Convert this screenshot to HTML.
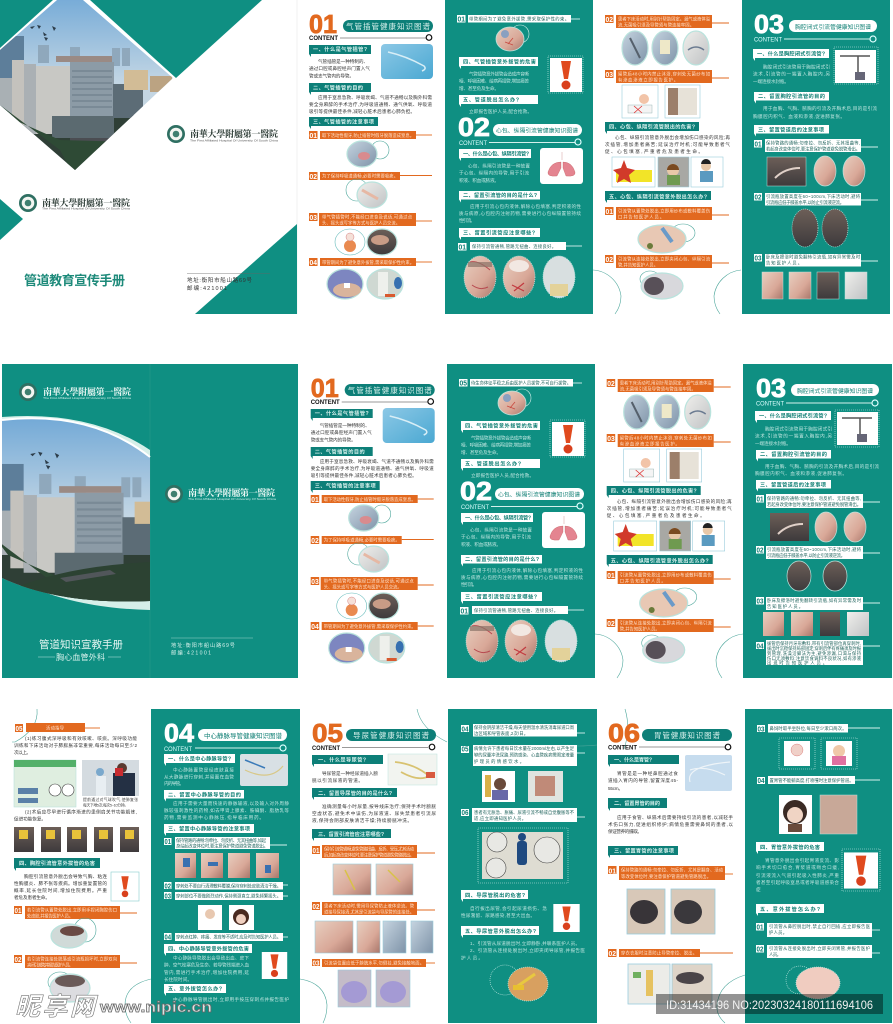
<!DOCTYPE html>
<html lang="zh"><head><meta charset="utf-8"><title>管道教育宣传手册</title>
<style>
html,body{margin:0;padding:0;background:#fff;width:893px;height:1024px;overflow:hidden}
svg{display:block;filter:blur(.35px)}
text{font-family:"Liberation Sans","Noto Sans CJK SC",sans-serif}
.T{fill:#0f8f82}.O{fill:#e2691f}.W{fill:#fff}.D{fill:#0d7f78}
.lo{stroke:#e2691f;stroke-width:.9}.lw{stroke:#d5f0ec;stroke-width:.9}
.c{stroke:#b9e3dd;stroke-width:1.2}.r{fill:none;stroke:#2f9c90;stroke-width:.6}.rw{fill:none;stroke:#cfeee9;stroke-width:.6}
.a{fill:none;stroke:#4ea79c;stroke-width:.6}
.s{fill:#2e2e2e}.g1{fill:url(#g1)}.g2{fill:url(#g2)}.g3{fill:url(#g3)}.g4{fill:url(#g4)}.g5{fill:url(#g5)}
.b{font-size:4.6px;fill:#333}.l{font-size:4.6px;fill:#bfe6e0}
.h{font-size:5.2px;fill:#d9f2ee;font-weight:700}.k{font-size:5.2px;fill:#0f7f74;font-weight:700}
.o{font-size:4.3px;fill:#ffe3cf}.w{font-size:4.3px;fill:#1a5f58}
.n{font-size:7px;font-weight:700;fill:#fff}.nt{font-size:7px;font-weight:700;fill:#0f7f74}
.N{font-size:26px;font-weight:700;stroke-width:.8}.NO{fill:#e2691f;stroke:#e2691f}.NW{fill:#fff;stroke:#fff}.P{font-size:7.5px}.C{font-size:6px}
.lg{font-family:"Noto Serif CJK SC","Liberation Serif",serif;font-size:9px;font-weight:700}
.sm{font-size:3px}
</style></head><body>
<svg width="893" height="1024" viewBox="0 0 893 1024" xmlns="http://www.w3.org/2000/svg">
<defs>
<linearGradient id="g1" x1="0" y1="0" x2="1" y2="1"><stop offset="0" stop-color="#e8cfc0"/><stop offset=".6" stop-color="#d9a898"/><stop offset="1" stop-color="#a8766a"/></linearGradient>
<linearGradient id="g2" x1="0" y1="0" x2="1" y2="1"><stop offset="0" stop-color="#c6d4e0"/><stop offset="1" stop-color="#7e93a8"/></linearGradient>
<linearGradient id="g3" x1="0" y1="0" x2="1" y2="1"><stop offset="0" stop-color="#f0efec"/><stop offset="1" stop-color="#bfc2c4"/></linearGradient>
<linearGradient id="g4" x1="0" y1="0" x2="0" y2="1"><stop offset="0" stop-color="#6d5f58"/><stop offset="1" stop-color="#3d3a3c"/></linearGradient>
<linearGradient id="g5" x1="0" y1="0" x2="1" y2="1"><stop offset="0" stop-color="#8cc8e6"/><stop offset="1" stop-color="#4aa8d2"/></linearGradient>
<linearGradient id="sky" x1="0" y1="0" x2="0" y2="1"><stop offset="0" stop-color="#6fa7d6"/><stop offset=".5" stop-color="#c3d6e4"/><stop offset="1" stop-color="#c9d6dd"/></linearGradient>
<clipPath id="dia"><path d="M0 50 57 0H83L173 78 75 170 0 105z"/></clipPath>
<clipPath id="cur"><path d="M2 420Q90 410 150 457V601Q60 605 2 578z"/></clipPath>
<symbol id="w" viewBox="0 0 32 34"><rect width="32" height="34" fill="#fff"/><path d="M11 3H21L18 21H14z" fill="#e04a1e"/><circle cx="16" cy="27" r="4.5" fill="#d9401c"/></symbol>
<g id="city">
<rect x="-5" y="-10" width="185" height="185" fill="url(#sky)"/>
<g fill="#8fa8bc"><rect x="38" y="45" width="11" height="18"/><rect x="70" y="47" width="10" height="15"/><rect x="112" y="48" width="8" height="18"/><rect x="122" y="48" width="8" height="18"/></g>
<rect x="0" y="36" width="24" height="76" fill="#5d7e9a"/>
<rect x="-5" y="115" width="185" height="60" fill="#2f3f36"/>
<rect x="0" y="78" width="12" height="40" fill="#a9b0b4"/>
<rect x="12" y="60" width="12" height="70" fill="#c4c2bd"/><rect x="24" y="64" width="12" height="70" fill="#aab0b4"/>
<rect x="36" y="66" width="34" height="68" fill="#c8c8c4"/><rect x="70" y="62" width="44" height="60" fill="#8c9ba6"/>
<g fill="#7a8a96"><rect x="72" y="70" width="40" height="2"/><rect x="72" y="76" width="40" height="2"/><rect x="72" y="82" width="40" height="2"/><rect x="72" y="88" width="40" height="2"/><rect x="72" y="94" width="40" height="2"/><rect x="72" y="100" width="40" height="2"/><rect x="72" y="106" width="40" height="2"/></g>
<rect x="52" y="116" width="62" height="22" fill="#5b6a70"/><rect x="70" y="138" width="60" height="10" fill="#4b4d52"/>
<rect x="113" y="84" width="30" height="34" fill="#5c6c76"/><rect x="124" y="70" width="24" height="20" fill="#d2bc96"/><rect x="150" y="76" width="22" height="16" fill="#bba382"/>
<rect x="56" y="56" width="56" height="6" fill="#9a8a84"/>
<path d="M0 105 60 150 75 178H180V150L130 142 60 140 10 118z" fill="#2e4a35"/>
<g fill="#2d3d4a"><path d="M30 27l5-1-3 3zM37 25l4 1-2 3zM52 26l4 2-2 3zM43 32l4 3-3 1zM44 37l4 1-2 3z"/></g>
</g>
<g id="logoc"><circle r="9" fill="#2f6f62"/><circle r="6.3" fill="#f4f6f2"/><circle r="3.3" fill="#3f7f70"/></g>

<g id="bs">
<path class="D" d="M343 26a6 6 0 0 1 6-6h78a6 6 0 0 1 6 6a6 6 0 0 1-6 6h-78a6 6 0 0 1-6-6z"/>
<line x1="340" y1="38" x2="426" y2="38" stroke="#999" stroke-width="1"/><circle cx="429" cy="37.5" r="2.8" fill="#fff" stroke="#111" stroke-width="1.2"/>
<path class="D" d="M309 45h62v9h-60v3l-2-3z"/><rect x="381" y="44" width="52" height="35" rx="4" class="g5"/>
<path d="M388 52q18 4 36 14q3 3-2 5" fill="none" stroke="#d8eef6" stroke-width="1.5"/>
<path class="D" d="M309 83h62v9h-60v3l-2-3z"/><path class="D" d="M309 117h69v9h-67v3l-2-3z"/>
<rect class="O" x="309" y="131" width="8.5" height="8"/><rect class="O" x="320" y="131" width="96" height="8"/><line class="lo" x1="416" y1="135" x2="432" y2="135"/>
<circle class="a" cx="380" cy="150" r="9"/><ellipse class="g2 c" cx="362" cy="154" rx="15" ry="13"/><ellipse cx="364" cy="156" rx="6" ry="4" fill="#d98b8e"/>
<rect class="O" x="309" y="172" width="8.5" height="8"/><rect class="O" x="320" y="172" width="80" height="8"/><line class="lo" x1="400" y1="175.500" x2="432" y2="175.500"/>
<circle class="a" cx="357" cy="190" r="11"/><ellipse class="g3 c" cx="372" cy="195" rx="15" ry="13"/><path d="M362 190l16 9" stroke="#e6b8a4" stroke-width="3"/>
<rect class="O" x="309" y="213" width="8.5" height="8"/><rect class="O" x="319" y="213" width="97" height="13"/><line class="lo" x1="416" y1="221" x2="432" y2="221"/>
<ellipse fill="#fff" stroke="#6bb" stroke-width=".6" cx="350" cy="242" rx="15" ry="13"/><ellipse cx="350" cy="246" rx="6" ry="6" fill="#e98a50"/><circle cx="350" cy="237" r="4" fill="#f5e0d8" stroke="#c66" stroke-width=".4"/>
<ellipse class="g4 c" cx="382" cy="242" rx="15" ry="13"/><ellipse cx="380" cy="240" rx="9" ry="5" fill="#c89c86"/>
<rect class="O" x="309" y="258" width="8.5" height="8"/><rect class="O" x="320" y="258" width="96" height="8"/><line class="lo" x1="416" y1="262" x2="432" y2="262"/>
<ellipse class="c" fill="#7d86c0" cx="345" cy="284" rx="18" ry="15"/><ellipse cx="347" cy="290" rx="14" ry="7" fill="#d9b49c"/><rect x="344" y="283" width="6" height="5" fill="#fff"/>
<ellipse class="c" fill="#cfd8d2" cx="385" cy="284" rx="18" ry="15"/><rect x="378" y="272" width="10" height="24" fill="#eef0ec"/><ellipse cx="398" cy="283" rx="4" ry="6" fill="#3670b0"/><rect x="385" y="294" width="10" height="3" fill="#d85a30"/>
</g>

<g id="cs">
<rect class="W" x="457" y="15" width="8.500" height="7.500"/><rect class="W" x="468" y="15" width="103" height="7.500"/><line class="lw" x1="571" y1="19" x2="580" y2="19"/>
<circle class="rw" cx="520" cy="34" r="9"/><ellipse class="g1" stroke="#b9e3dd" stroke-width=".8" cx="510" cy="39" rx="14" ry="12"/><circle cx="505" cy="34" r="4" fill="#8aa0c0"/><path d="M505 42l8 3M513 38l-5 6" stroke="#c84a40" stroke-width=".8"/>
<path class="W" d="M459 57h79v9h-77v3l-2-3z"/><rect class="rw" x="548" y="56" width="35" height="37" stroke-dasharray="1 1"/><use href="#w" x="550" y="58" width="32" height="34"/>
<path class="W" d="M459 95h79v9h-77v3l-2-3z"/>
<text class="N NW" x="458" y="136" textLength="32" lengthAdjust="spacingAndGlyphs">02</text>
<rect class="W" x="493" y="124" width="89" height="12" rx="6"/><line class="lw" x1="489" y1="142.500" x2="575" y2="142.500"/><circle cx="578" cy="142" r="3" fill="none" stroke="#dff" stroke-width="1.2"/>
<path class="W" d="M459 149h72v9h-70v3l-2-3z"/>
<rect class="W" x="540" y="148" width="43" height="36" rx="3"/><path d="M562 152v8M561 162q-10 0-13 10q-1 5 9 4l4-8zM563 162q9 0 12 10q1 5-9 4l-3-8z" fill="#e48490" stroke="#b55" stroke-width=".3"/>
<path class="W" d="M459 191h81v8.500h-79v3l-2-3z"/><path class="W" d="M459 228h81v9h-79v3l-2-3z"/>
<rect class="W" x="458" y="243" width="8.500" height="7.500"/><rect class="W" x="470" y="242" width="96" height="8"/><line class="lw" x1="566" y1="246" x2="582" y2="246"/>
<ellipse class="g1" stroke="#b9e3dd" stroke-width=".8" stroke-dasharray="1 1" cx="480" cy="277" rx="16" ry="21"/><path d="M470 262q8-2 20 8M472 285q8 6 16 2" stroke="#b84a50" stroke-width="1" fill="none"/><rect x="468" y="262" width="24" height="5" fill="#8a7468" opacity=".7"/>
<ellipse class="g1" stroke="#b9e3dd" stroke-width=".8" stroke-dasharray="1 1" cx="519" cy="277" rx="16" ry="21"/><path d="M512 285l12 6M524 283l-10 8" stroke="#c23a40" stroke-width="1.200"/><ellipse cx="519" cy="266" rx="10" ry="6" fill="#f2e8e2"/>
<ellipse fill="#d8dfe0" stroke="#b9e3dd" stroke-width=".8" stroke-dasharray="1 1" cx="559" cy="277" rx="16" ry="21"/><rect x="550" y="284" width="18" height="12" fill="#e3d29a"/>
</g>

<g id="ds">
<rect class="O" x="605" y="15" width="8.500" height="8"/><rect class="O" x="616" y="15" width="96" height="13"/><line class="lo" x1="712" y1="23" x2="729" y2="23"/>
<ellipse class="g2 c" cx="635" cy="48" rx="13" ry="17"/><path d="M630 38l10 20" stroke="#55606c" stroke-width="2"/><ellipse class="g2 c" cx="665" cy="48" rx="13" ry="17"/><rect x="660" y="40" width="10" height="14" fill="#eee8c8"/><ellipse class="g3 c" cx="696" cy="48" rx="13" ry="17"/><path d="M688 50q8-6 16 0" stroke="#6a7a90" stroke-width="1.500" fill="none"/>
<rect class="O" x="605" y="70" width="8.500" height="8"/><rect class="O" x="616" y="70" width="96" height="13"/><line class="lo" x1="712" y1="78" x2="729" y2="78"/>
<rect x="622" y="85" width="36" height="33" fill="#fff" stroke="#9cd" stroke-width=".6"/><rect x="628" y="105" width="24" height="8" fill="#f4f4f4" stroke="#8aa" stroke-width=".4"/><circle cx="644" cy="99" r="5" fill="#f2c4a8"/><path d="M634 106l8 7M642 106l-8 7" stroke="#d33" stroke-width=".8"/>
<rect x="665" y="85" width="35" height="33" fill="#fff" stroke="#9cd" stroke-width=".6"/><rect x="668" y="88" width="29" height="27" fill="#e7e2d8"/><rect x="668" y="88" width="10" height="27" fill="#9c7f6a"/>
<path class="D" d="M605 122h94v9h-92v3l-2-3z"/>
<rect x="612" y="157" width="43" height="30" fill="#fff" stroke="#9cd" stroke-width=".6"/><rect x="616" y="170" width="36" height="12" fill="#f2e428"/><path d="M624 160l3 8 8 2-6 5 2 8-7-4-7 4 2-8-6-5 8-2z" fill="#d13a2a"/>
<rect x="658" y="157" width="31" height="30" fill="#a8a8a4" stroke="#9cd" stroke-width=".6"/><circle cx="673" cy="170" r="6" fill="#e8c8a8"/><rect x="667" y="175" width="13" height="10" fill="#6f9a50"/><path d="M667 170a6 6 0 0 1 12 0z" fill="#7a4a20"/>
<rect x="691" y="157" width="32" height="30" fill="#fff" stroke="#9cd" stroke-width=".6"/><circle cx="706" cy="166" r="5" fill="#e8c8a8"/><path d="M701 164a5 5 0 0 1 10 0z" fill="#222"/><rect x="700" y="171" width="13" height="11" fill="#5a9ac0"/>
<path class="D" d="M605 191h106v9h-104v3l-2-3z"/>
<rect class="O" x="605" y="207" width="8.500" height="8"/><rect class="O" x="616" y="207" width="96" height="13"/><line class="lo" x1="712" y1="215" x2="729" y2="215"/>
<ellipse class="a" cx="683" cy="233" rx="12" ry="9"/><ellipse class="c" fill="#e8c8b4" cx="662" cy="239" rx="24" ry="14"/><path d="M662 228l10 14" stroke="#6a9ac8" stroke-width="4"/><circle cx="650" cy="246" r="3" fill="#6a7a3a"/>
<rect class="O" x="605" y="255" width="8.500" height="8"/><rect class="O" x="616" y="255" width="96" height="13"/><line class="lo" x1="712" y1="263" x2="729" y2="263"/>
<ellipse class="a" cx="650" cy="279" rx="10" ry="8"/><ellipse class="c" fill="#d8d8dc" cx="662" cy="286" rx="21" ry="13"/><ellipse cx="654" cy="286" rx="10" ry="9" fill="#585058"/>
</g>
</defs>

<!-- row 1 -->
<rect class="T" x="445" y="0" width="148" height="314"/><rect class="T" x="742" y="0" width="148" height="314"/>
<line x1="297" y1="0" x2="297" y2="314" stroke="#e6e6e6" stroke-width=".6"/>
<path class="T" d="M0 0H53L0 48z"/><path class="T" d="M90 0H262L176 78z"/><path class="T" d="M0 199 23 219 0 240z"/><path class="T" d="M195 314 297 224V314z"/>
<g clip-path="url(#dia)"><use href="#city"/></g>
<use href="#logoc" x="176" y="134"/><use href="#logoc" x="28" y="203"/>
<text class="lg" x="190" y="137" fill="#2b3a34" textLength="88">南華大學附屬第一醫院</text>
<text class="sm" x="190" y="141.500" fill="#555" textLength="88" lengthAdjust="spacingAndGlyphs">The First Affiliated Hospital Of University Of South China</text>
<text class="lg" x="42" y="206" fill="#2b3a34" textLength="88">南華大學附屬第一醫院</text>
<text class="sm" x="42" y="209.500" fill="#555" textLength="88" lengthAdjust="spacingAndGlyphs">The First Affiliated Hospital Of University Of South China</text>
<text x="24" y="285" font-size="13" font-weight="700" fill="#1d8a7a" textLength="101">管道教育宣传手册</text>
<line x1="187" y1="273.500" x2="270" y2="273.500" stroke="#666" stroke-width=".4"/>
<text x="187" y="282" font-size="5.5" fill="#333" textLength="65">地址:衡阳市船山路69号</text>
<text x="187" y="290" font-size="5.5" fill="#333" textLength="40">邮编:421001</text>

<use href="#bs"/>
<g id="bt1">
<text class="N NO" x="309" y="33" textLength="28" lengthAdjust="spacingAndGlyphs">01</text>
<text class="P" x="346" y="29" fill="#d7f1ec" textLength="84">气管插管健康知识图谱</text>
<text class="C" x="309" y="40" font-weight="700" fill="#111" textLength="29" lengthAdjust="spacingAndGlyphs">CONTENT</text>
<text class="h" x="313" y="51" textLength="54">一、什么是气管插管?</text>
<text class="b" x="318" y="63" textLength="50">气管插管是一种特制的、</text>
<text class="b" x="309" y="70" textLength="61">通过口腔或鼻腔经声门置入气</text>
<text class="b" x="309" y="77.500" textLength="45">管或支气管内的导管。</text>
<text class="h" x="313" y="89.500" textLength="50">二、气管插管的目的</text>
<text class="b" x="318" y="99" textLength="114">应用于窒息急救、呼吸衰竭、气道不通畅以及胸外科需</text>
<text class="b" x="309" y="106" textLength="123">要全身麻醉的手术治疗,为呼吸道通畅、通气供氧、呼吸道</text>
<text class="b" x="309" y="113" textLength="106">吸引等提供最佳条件,减轻心脏术后患者心肺负担。</text>
<text class="h" x="313" y="123.500" textLength="61">三、气管插管的注意事项</text>
<text class="n" x="309.500" y="138" textLength="7.500" lengthAdjust="spacingAndGlyphs">01</text>
<text class="o" x="322" y="137" textLength="92">取下活动性假牙,防止插管时假牙脱落造成窒息。</text>
<text class="n" x="309.500" y="179" textLength="7.500" lengthAdjust="spacingAndGlyphs">02</text>
<text class="o" x="322" y="177.500" textLength="76">为了保持呼吸道通畅,必要时需要吸痰。</text>
<text class="n" x="309.500" y="220" textLength="7.500" lengthAdjust="spacingAndGlyphs">03</text>
<text class="o" x="322" y="218.500" textLength="90">带气管插管时,不能经口进食及说话,可通过点</text>
<text class="o" x="322" y="224.500" textLength="78">头、摇头或写字等方式与医护人员交流。</text>
<text class="n" x="309.500" y="265" textLength="7.500" lengthAdjust="spacingAndGlyphs">04</text>
<text class="o" x="322" y="264" textLength="92">带管期间为了避免意外拔管,需采取保护性约束。</text>
</g>

<use href="#cs"/>
<g id="ct1">
<text class="nt" x="457.500" y="21.500" textLength="7.500" lengthAdjust="spacingAndGlyphs">01</text>
<text class="w" x="469" y="20.500" textLength="100">带管期间为了避免意外拔管,需采取保护性约束。</text>
<text class="k" x="463" y="63.500" textLength="73">四、气管插管意外拔管的危害</text>
<text class="l" x="469" y="75.500" textLength="60">气管插管意外拔管会造成声音嘶</text>
<text class="l" x="459" y="82.500" textLength="70">哑、呼吸困难、给病再插管,增加痛苦</text>
<text class="l" x="459" y="90" textLength="40">增、甚至危及生命。</text>
<text class="k" x="463" y="101.500" textLength="56">五、管道脱出怎么办?</text>
<text class="l" x="469" y="113" textLength="63">立即报告医护人员,配合抢救。</text>
<text x="496" y="132.500" font-size="5.800" fill="#0f7f74" textLength="82">心包、纵隔引流管健康知识图谱</text>
<text class="C" x="459" y="145" fill="#dff" textLength="28" lengthAdjust="spacingAndGlyphs">CONTENT</text>
<text class="k" x="463" y="155.500" textLength="66">一、什么是心包、纵隔引流管?</text>
<text class="l" x="468" y="167.500" textLength="62">心包、纵隔引流管是一种放置</text>
<text class="l" x="459" y="174.500" textLength="70">于心包、纵隔内的导管,用于引流</text>
<text class="l" x="459" y="182" textLength="40">积液、积血或脓液。</text>
<text class="k" x="463" y="197" textLength="74">二、留置引流管的目的是什么?</text>
<text class="l" x="470" y="208" textLength="111">应用于引流心包内液体,解除心包填塞,判定积液的性</text>
<text class="l" x="459" y="215" textLength="122">质与病原,心包腔内注射药物,需要进行心包纵隔置管持续</text>
<text class="l" x="459" y="222" textLength="16">性引流。</text>
<text class="k" x="463" y="234.500" textLength="72">三、留置引流管应注意哪些?</text>
<text class="nt" x="458.500" y="249.500" textLength="7.500" lengthAdjust="spacingAndGlyphs">01</text>
<text class="w" x="472" y="248" textLength="84">保持引流管通畅,管路无扭曲、连接良好。</text>
</g>

<use href="#ds"/>
<path class="a" d="M593 270a30 30 0 0 1 28 26q0 10-6 18M741 270a30 30 0 0 0-27 26q0 10 6 18"/>
<g id="dt1">
<text class="n" x="605.500" y="22" textLength="7.500" lengthAdjust="spacingAndGlyphs">02</text>
<text class="o" x="618" y="20.500" textLength="92">患者下床活动时,用别针帮助固定。漏气或液体溢</text>
<text class="o" x="618" y="26.500" textLength="76">流,无菌吸引须及导管须与管连接牢固。</text>
<text class="n" x="605.500" y="77" textLength="7.500" lengthAdjust="spacingAndGlyphs">03</text>
<text class="o" x="618" y="75.500" textLength="92">留管后48小时内禁止沐浴,穿刺处无菌纱布如</text>
<text class="o" x="618" y="81.500" textLength="60">有渗血渗液立即报告医护。</text>
<text class="h" x="609" y="128.500" textLength="86">四、心包、纵隔引流管脱出的危害?</text>
<text class="b" x="615" y="139" textLength="115">心包、纵隔引流管意外脱出会增加伤口感染的风险;再</text>
<text class="b" x="605" y="146" textLength="125">次插管,增加患者痛苦;延误治疗时机;可能导致患者气</text>
<text class="b" x="605" y="153" textLength="98">促、心包填塞,严重者危及患者生命。</text>
<text class="h" x="609" y="198.500" textLength="98">五、心包、纵隔引流管意外脱出怎么办?</text>
<text class="n" x="605.500" y="214" textLength="7.500" lengthAdjust="spacingAndGlyphs">01</text>
<text class="o" x="618" y="212.500" textLength="92">引流管从置管处脱出,立即用纱布或敷料覆盖伤</text>
<text class="o" x="618" y="218.500" textLength="46">口并告知医护人员。</text>
<text class="n" x="605.500" y="262" textLength="7.500" lengthAdjust="spacingAndGlyphs">02</text>
<text class="o" x="618" y="260.500" textLength="92">引流管从连接处脱出,立即夹闭心包、纵隔引流</text>
<text class="o" x="618" y="266.500" textLength="40">管,并告知医护人员。</text>
</g>

<!-- E row 1 -->
<rect class="W" x="789" y="20" width="88" height="12" rx="6"/><line class="lw" x1="784" y1="39" x2="870" y2="39"/><circle cx="873" cy="39" r="3" fill="none" stroke="#dff" stroke-width="1.2"/>
<path class="W" d="M753 49h76v9h-74v3l-2-3z"/><rect class="rw" x="834" y="47" width="44" height="37" stroke-dasharray="1 1"/><rect class="W" x="835" y="50" width="41" height="33"/><path d="M840 56h30M858 56v18" stroke="#555" stroke-width="1.5" fill="none"/><rect x="855" y="72" width="10" height="8" fill="#667"/>
<path class="W" d="M754 92h75v8.500h-73v3l-2-3z"/><path class="W" d="M754 125h75v8.500h-73v3l-2-3z"/>
<rect class="W" x="754" y="140" width="8" height="7.500"/><rect class="W" x="765" y="139" width="96" height="13"/><line class="lw" x1="861" y1="147" x2="878" y2="147"/>
<rect class="g4" x="767" y="157" width="39" height="29" stroke="#b9e3dd" stroke-width=".5"/><path d="M775 178q10-10 25-10" stroke="#e0d0c8" stroke-width="2" fill="none"/>
<ellipse class="g1" cx="825" cy="171" rx="11" ry="15" stroke="#b9e3dd" stroke-width=".7"/><ellipse class="g1" cx="854" cy="171" rx="11" ry="15" stroke="#b9e3dd" stroke-width=".7"/>
<rect class="W" x="754" y="193" width="8" height="7.500"/><rect class="W" x="765" y="193" width="96" height="12.500"/><line class="lw" x1="861" y1="200" x2="878" y2="200"/>
<ellipse class="g4" cx="805" cy="228" rx="13" ry="19" stroke="#b9e3dd" stroke-width=".7" stroke-dasharray="1 1"/><ellipse class="g4" cx="835" cy="228" rx="13" ry="19" stroke="#b9e3dd" stroke-width=".7" stroke-dasharray="1 1"/>
<rect class="W" x="754" y="254" width="8" height="7.500"/><rect class="W" x="765" y="254" width="96" height="12.500"/><line class="lw" x1="861" y1="261" x2="878" y2="261"/>
<rect class="g1" x="762" y="272" width="21" height="27" stroke="#b9e3dd" stroke-width=".5"/><rect class="g1" x="789" y="272" width="22" height="27" stroke="#b9e3dd" stroke-width=".5"/><rect class="g4" x="817" y="272" width="22" height="27" stroke="#b9e3dd" stroke-width=".5"/><rect class="g3" x="845" y="272" width="22" height="27" stroke="#b9e3dd" stroke-width=".5"/>
<text class="N NW" x="754" y="33" textLength="30" lengthAdjust="spacingAndGlyphs">03</text>
<text x="795" y="29" font-size="5.800" fill="#0f7f74" textLength="76">胸腔闭式引流管健康知识图谱</text>
<text class="C" x="754" y="41.500" fill="#dff" textLength="28" lengthAdjust="spacingAndGlyphs">CONTENT</text>
<text class="k" x="757" y="55.500" textLength="68">一、什么是胸腔闭式引流管?</text>
<text class="l" x="763" y="68.500" textLength="67">胸腔闭式引流管用于胸腔闭式引</text>
<text class="l" x="753" y="75.500" textLength="77">流术,引流管的一端置入胸腔内,另</text>
<text class="l" x="753" y="83" textLength="36">一端连接水封瓶。</text>
<text class="k" x="758" y="98" textLength="67">二、留置胸腔引流管的目的</text>
<text class="l" x="763" y="110" textLength="114">用于血胸、气胸、脓胸的引流及开胸术后,目的是引流</text>
<text class="l" x="753" y="118" textLength="92">胸膜腔内积气、血液和渗液,促进肺复张。</text>
<text class="k" x="758" y="131.500" textLength="66">三、留置管道后的注意事项</text>
<text class="nt" x="754.500" y="146.500" textLength="7" lengthAdjust="spacingAndGlyphs">01</text>
<text class="w" x="766" y="144.500" textLength="94">保持管路的通畅:勿牵拉、勿反折、无其扭曲等,</text>
<text class="w" x="766" y="150.500" textLength="94">若起身改变体位时,要注意保护管道避免脱管滑出。</text>
<text class="nt" x="754.500" y="199.500" textLength="7" lengthAdjust="spacingAndGlyphs">02</text>
<text class="w" x="766" y="198" textLength="94">引流瓶放置高度在60~100cm,下床活动时,避将</text>
<text class="w" x="766" y="204" textLength="78">引流瓶应低于膝盖水平,以防止引流液逆流。</text>
<text class="nt" x="754.500" y="260.500" textLength="7" lengthAdjust="spacingAndGlyphs">03</text>
<text class="w" x="766" y="258.500" textLength="94">卧床及擦浴时避免翻转引流瓶,如有异常需及时</text>
<text class="w" x="766" y="264.500" textLength="36">告知医护人员。</text>

<!-- row 2 cover -->
<rect class="T" x="2" y="364" width="296" height="314"/><line x1="150" y1="364" x2="150" y2="678" stroke="#2a9a8c" stroke-width=".5"/>
<rect class="T" x="447" y="364" width="148" height="314"/><rect class="T" x="743" y="364" width="149" height="314"/>
<path d="M2 417Q90 410 150 450V610Q60 608 2 572z" fill="#d6efe9"/>
<g clip-path="url(#cur)"><use href="#city" transform="translate(-3 424) scale(1.11)"/><path d="M20 586Q70 566 150 562V604H50z" fill="#2c4232"/><path d="M60 578l50-8 6 4-50 8z" fill="#51565a"/></g>
<path d="M2 420Q90 410 150 457" fill="none" stroke="#fff" stroke-width="2"/>
<use href="#logoc" x="28" y="392"/><use href="#logoc" x="174" y="494"/>
<text class="lg" x="43" y="395" fill="#eaf7f4" textLength="88">南華大學附屬第一醫院</text>
<text class="sm" x="43" y="399" fill="#cfeee9" textLength="88" lengthAdjust="spacingAndGlyphs">The First Affiliated Hospital Of University Of South China</text>
<text class="lg" x="188" y="496" fill="#eaf7f4" textLength="87">南華大學附屬第一醫院</text>
<text class="sm" x="188" y="500" fill="#cfeee9" textLength="88" lengthAdjust="spacingAndGlyphs">The First Affiliated Hospital Of University Of South China</text>
<text x="39" y="648" font-size="10.500" fill="#e8f7f4" textLength="84">管道知识宣教手册</text>
<text x="56" y="660" font-size="8" fill="#d7f1ec" textLength="49">胸心血管外科</text>
<path d="M38 657H55M108 657H121" stroke="#bfe6e0" stroke-width=".5"/>
<line x1="171" y1="638" x2="253" y2="638" stroke="#bfe6e0" stroke-width=".4"/>
<text x="171" y="647" font-size="5.200" fill="#d7f1ec" textLength="64">地址:衡阳市船山路69号</text>
<text x="171" y="654.500" font-size="5.200" fill="#d7f1ec" textLength="40">邮编:421001</text>

<use href="#bs" x="1.700" y="364"/><use href="#cs" x="2" y="364"/><use href="#ds" x="1.700" y="364"/>
<path class="a" d="M595 634a30 30 0 0 1 28 26q0 10-6 18M743 634a30 30 0 0 0-27 26q0 10 6 18"/>
<g transform="translate(1.700 364)">
<text class="N NO" x="309" y="33" textLength="28" lengthAdjust="spacingAndGlyphs">01</text>
<text class="P" x="346" y="29" fill="#d7f1ec" textLength="84">气管插管健康知识图谱</text>
<text class="C" x="309" y="40" font-weight="700" fill="#111" textLength="29" lengthAdjust="spacingAndGlyphs">CONTENT</text>
<text class="h" x="313" y="51" textLength="54">一、什么是气管插管?</text>
<text class="b" x="318" y="63" textLength="50">气管插管是一种特制的、</text>
<text class="b" x="309" y="70" textLength="61">通过口腔或鼻腔经声门置入气</text>
<text class="b" x="309" y="77.500" textLength="45">管或支气管内的导管。</text>
<text class="h" x="313" y="89.500" textLength="50">二、气管插管的目的</text>
<text class="b" x="318" y="99" textLength="114">应用于窒息急救、呼吸衰竭、气道不通畅以及胸外科需</text>
<text class="b" x="309" y="106" textLength="123">要全身麻醉的手术治疗,为呼吸道通畅、通气供氧、呼吸道</text>
<text class="b" x="309" y="113" textLength="106">吸引等提供最佳条件,减轻心脏术后患者心肺负担。</text>
<text class="h" x="313" y="123.500" textLength="61">三、气管插管的注意事项</text>
<text class="n" x="309.500" y="138" textLength="7.500" lengthAdjust="spacingAndGlyphs">01</text>
<text class="o" x="322" y="137" textLength="92">取下活动性假牙,防止插管时假牙脱落造成窒息。</text>
<text class="n" x="309.500" y="179" textLength="7.500" lengthAdjust="spacingAndGlyphs">02</text>
<text class="o" x="322" y="177.500" textLength="76">为了保持呼吸道通畅,必要时需要吸痰。</text>
<text class="n" x="309.500" y="220" textLength="7.500" lengthAdjust="spacingAndGlyphs">03</text>
<text class="o" x="322" y="218.500" textLength="90">带气管插管时,不能经口进食及说话,可通过点</text>
<text class="o" x="322" y="224.500" textLength="78">头、摇头或写字等方式与医护人员交流。</text>
<text class="n" x="309.500" y="265" textLength="7.500" lengthAdjust="spacingAndGlyphs">04</text>
<text class="o" x="322" y="264" textLength="92">带管期间为了避免意外拔管,需采取保护性约束。</text>
</g>
<g transform="translate(2 364)">
<text class="nt" x="457.500" y="21.500" textLength="7.500" lengthAdjust="spacingAndGlyphs">05</text>
<text class="w" x="469" y="20.500" textLength="100">待生命体征平稳之后由医护人员拔管,不可自行拔管。</text>
<text class="k" x="463" y="63.500" textLength="73">四、气管插管意外拔管的危害</text>
<text class="l" x="469" y="75.500" textLength="60">气管插管意外拔管会造成声音嘶</text>
<text class="l" x="459" y="82.500" textLength="70">哑、呼吸困难、给病再插管,增加痛苦</text>
<text class="l" x="459" y="90" textLength="40">增、甚至危及生命。</text>
<text class="k" x="463" y="101.500" textLength="56">五、管道脱出怎么办?</text>
<text class="l" x="469" y="113" textLength="63">立即报告医护人员,配合抢救。</text>
<text x="496" y="132.500" font-size="5.800" fill="#0f7f74" textLength="82">心包、纵隔引流管健康知识图谱</text>
<text class="C" x="459" y="145" fill="#dff" textLength="28" lengthAdjust="spacingAndGlyphs">CONTENT</text>
<text class="k" x="463" y="155.500" textLength="66">一、什么是心包、纵隔引流管?</text>
<text class="l" x="468" y="167.500" textLength="62">心包、纵隔引流管是一种放置</text>
<text class="l" x="459" y="174.500" textLength="70">于心包、纵隔内的导管,用于引流</text>
<text class="l" x="459" y="182" textLength="40">积液、积血或脓液。</text>
<text class="k" x="463" y="197" textLength="74">二、留置引流管的目的是什么?</text>
<text class="l" x="470" y="208" textLength="111">应用于引流心包内液体,解除心包填塞,判定积液的性</text>
<text class="l" x="459" y="215" textLength="122">质与病原,心包腔内注射药物,需要进行心包纵隔置管持续</text>
<text class="l" x="459" y="222" textLength="16">性引流。</text>
<text class="k" x="463" y="234.500" textLength="72">三、留置引流管应注意哪些?</text>
<text class="nt" x="458.500" y="249.500" textLength="7.500" lengthAdjust="spacingAndGlyphs">01</text>
<text class="w" x="472" y="248" textLength="84">保持引流管通畅,管路无扭曲、连接良好。</text>
</g>
<g transform="translate(1.700 364)">
<text class="n" x="605.500" y="22" textLength="7.500" lengthAdjust="spacingAndGlyphs">02</text>
<text class="o" x="618" y="20.500" textLength="92">患者下床活动时,用别针帮助固定。漏气或液体溢</text>
<text class="o" x="618" y="26.500" textLength="76">流,无菌吸引须及导管须与管连接牢固。</text>
<text class="n" x="605.500" y="77" textLength="7.500" lengthAdjust="spacingAndGlyphs">03</text>
<text class="o" x="618" y="75.500" textLength="92">留管后48小时内禁止沐浴,穿刺处无菌纱布如</text>
<text class="o" x="618" y="81.500" textLength="60">有渗血渗液立即报告医护。</text>
<text class="h" x="609" y="128.500" textLength="86">四、心包、纵隔引流管脱出的危害?</text>
<text class="b" x="615" y="139" textLength="115">心包、纵隔引流管意外脱出会增加伤口感染的风险;再</text>
<text class="b" x="605" y="146" textLength="125">次插管,增加患者痛苦;延误治疗时机;可能导致患者气</text>
<text class="b" x="605" y="153" textLength="98">促、心包填塞,严重者危及患者生命。</text>
<text class="h" x="609" y="198.500" textLength="98">五、心包、纵隔引流管意外脱出怎么办?</text>
<text class="n" x="605.500" y="214" textLength="7.500" lengthAdjust="spacingAndGlyphs">01</text>
<text class="o" x="618" y="212.500" textLength="92">引流管从置管处脱出,立即用纱布或敷料覆盖伤</text>
<text class="o" x="618" y="218.500" textLength="46">口并告知医护人员。</text>
<text class="n" x="605.500" y="262" textLength="7.500" lengthAdjust="spacingAndGlyphs">02</text>
<text class="o" x="618" y="260.500" textLength="92">引流管从连接处脱出,立即夹闭心包、纵隔引流</text>
<text class="o" x="618" y="266.500" textLength="40">管,并告知医护人员。</text>
</g>

<!-- E row 2 -->
<rect class="W" x="791" y="384" width="88" height="12" rx="6"/><line class="lw" x1="786" y1="403" x2="872" y2="403"/><circle cx="875" cy="403" r="3" fill="none" stroke="#dff" stroke-width="1.2"/>
<path class="W" d="M755 411h76v9h-74v3l-2-3z"/><rect class="rw" x="835" y="410" width="44" height="37" stroke-dasharray="1 1"/><rect class="W" x="837" y="412" width="41" height="33"/><path d="M842 418h30M860 418v18" stroke="#555" stroke-width="1.5" fill="none"/><rect x="857" y="434" width="10" height="8" fill="#667"/>
<path class="W" d="M756 450h75v8.500h-73v3l-2-3z"/><path class="W" d="M756 480h75v8.500h-73v3l-2-3z"/>
<rect class="W" x="756" y="495" width="8" height="7.500"/><rect class="W" x="766" y="494" width="97" height="14"/><line class="lw" x1="863" y1="502" x2="880" y2="502"/>
<rect class="g4" x="770" y="513" width="39" height="28"/><path d="M778 534q10-10 25-10" stroke="#e0d0c8" stroke-width="2" fill="none"/>
<ellipse class="g1" cx="826" cy="527" rx="11" ry="15" stroke="#b9e3dd" stroke-width=".7"/><ellipse class="g1" cx="855" cy="527" rx="11" ry="15" stroke="#b9e3dd" stroke-width=".7"/>
<rect class="W" x="756" y="546" width="8" height="7.500"/><rect class="W" x="766" y="546" width="97" height="13"/><line class="lw" x1="863" y1="553" x2="880" y2="553"/>
<ellipse class="g4" cx="799" cy="576" rx="12" ry="15" stroke="#b9e3dd" stroke-width=".7"/><ellipse class="g4" cx="835" cy="576" rx="12" ry="15" stroke="#b9e3dd" stroke-width=".7"/>
<rect class="W" x="756" y="597" width="8" height="7.500"/><rect class="W" x="766" y="597" width="97" height="13"/><line class="lw" x1="863" y1="603" x2="880" y2="603"/>
<rect class="g1" x="763" y="612" width="21" height="24"/><rect class="g1" x="791" y="612" width="22" height="24"/><rect class="g4" x="820" y="612" width="20" height="24"/><rect class="g3" x="847" y="612" width="22" height="24"/>
<rect class="W" x="756" y="642" width="8" height="7"/><rect class="W" x="766" y="640" width="97" height="25"/><line class="lw" x1="863" y1="646" x2="880" y2="646"/>
<text class="N NW" x="756" y="397" textLength="30" lengthAdjust="spacingAndGlyphs">03</text>
<text x="797" y="393" font-size="5.800" fill="#0f7f74" textLength="76">胸腔闭式引流管健康知识图谱</text>
<text class="C" x="756" y="405.500" fill="#dff" textLength="28" lengthAdjust="spacingAndGlyphs">CONTENT</text>
<text class="k" x="759" y="417.500" textLength="68">一、什么是胸腔闭式引流管?</text>
<text class="l" x="765" y="430.500" textLength="67">胸腔闭式引流管用于胸腔闭式引</text>
<text class="l" x="755" y="437.500" textLength="77">流术,引流管的一端置入胸腔内,另</text>
<text class="l" x="755" y="445" textLength="36">一端连接水封瓶。</text>
<text class="k" x="760" y="456" textLength="67">二、留置胸腔引流管的目的</text>
<text class="l" x="765" y="468" textLength="114">用于血胸、气胸、脓胸的引流及开胸术后,目的是引流</text>
<text class="l" x="755" y="475" textLength="92">胸膜腔内积气、血液和渗液,促进肺复张。</text>
<text class="k" x="760" y="486.500" textLength="66">三、留置管道后的注意事项</text>
<text class="nt" x="756.500" y="501.500" textLength="7" lengthAdjust="spacingAndGlyphs">01</text>
<text class="w" x="767" y="500" textLength="94">保持管路的通畅:勿牵拉、勿反折、无其扭曲等,</text>
<text class="w" x="767" y="506" textLength="94">若起身改变体位时,要注意保护管道避免脱管滑出。</text>
<text class="nt" x="756.500" y="552.500" textLength="7" lengthAdjust="spacingAndGlyphs">02</text>
<text class="w" x="767" y="551" textLength="94">引流瓶放置高度在60~100cm,下床活动时,避将</text>
<text class="w" x="767" y="557" textLength="78">引流瓶应低于膝盖水平,以防止引流液逆流。</text>
<text class="nt" x="756.500" y="603.500" textLength="7" lengthAdjust="spacingAndGlyphs">03</text>
<text class="w" x="767" y="602" textLength="94">卧床及擦浴时避免翻转引流瓶,如有异常需及时</text>
<text class="w" x="767" y="608" textLength="36">告知医护人员。</text>
<text class="nt" x="756.500" y="648.500" textLength="7" lengthAdjust="spacingAndGlyphs">04</text>
<text class="w" x="767" y="645" textLength="94">拔管后保持月牙形敷料,带有引流管部位再穿刺时,</text>
<text class="w" x="767" y="650" textLength="94">拔出时沉稳保持局部固定;穿刺后伴有疼痛须及时报</text>
<text class="w" x="767" y="655" textLength="94">到管理,洗澡沿脚法为主,避免渗漏,口渴与保持</text>
<text class="w" x="767" y="660" textLength="94">伤口无须敷料;注意饮食调料不良状况,如有渗液</text>
<text class="w" x="767" y="664.500" textLength="60">出现时告知医护人员。</text>

<!-- row 3 -->
<rect class="T" x="151" y="709" width="149" height="314"/><rect class="T" x="448" y="709" width="149" height="314"/><rect class="T" x="745" y="709" width="147" height="314"/>
<!-- P1 -->
<path class="a" d="M37 709q2 20-22 33H12"/><path class="a" d="M151 979q-26 6-26 26q0 10 6 18"/><path class="a" d="M300 979q25 4 27 26q0 10-4 18"/><path class="a" d="M417 709q4 20 30 33"/><path class="a" d="M597 745q-20 2-30 0"/><path class="a" d="M745 975q-26 8-28 30q-1 10 8 18"/><path class="a" d="M625 709q6 20-1 40"/>
<rect class="O" x="15" y="724" width="8" height="8"/><rect class="O" x="26" y="723" width="59" height="9"/><line class="lo" x1="85" y1="728" x2="100" y2="728"/>
<rect x="14" y="760" width="62" height="47" fill="#dfeee0" stroke="#b9e3dd" stroke-width=".6"/><rect x="14" y="760" width="62" height="7" fill="#54b06a"/><rect x="18" y="788" width="20" height="6" fill="#5a80a8"/><rect x="18" y="798" width="20" height="5" fill="#5a80a8"/><circle cx="55" cy="790" r="6" fill="#fff" stroke="#444" stroke-width=".6"/><circle cx="68" cy="790" r="6" fill="#fff" stroke="#444" stroke-width=".6"/>
<rect x="82" y="760" width="57" height="36" fill="#d4dbe0"/><circle cx="100" cy="772" r="4" fill="#7aa8cc"/><rect x="96" y="776" width="10" height="20" fill="#e8eef2"/><circle cx="122" cy="768" r="5" fill="#5a3a30"/><rect x="113" y="773" width="22" height="23" fill="#243044"/><rect x="115" y="768" width="8" height="8" fill="#c82c30"/>
<g><rect class="g4" x="14" y="827" width="20" height="25"/><rect class="g4" x="41" y="827" width="20" height="25"/><rect class="g4" x="67" y="827" width="20" height="25"/><rect class="g4" x="94" y="827" width="19" height="25"/><rect class="g4" x="120" y="827" width="19" height="25"/>
<rect x="19" y="830" width="9" height="9" fill="#e8c23a"/><rect x="46" y="830" width="9" height="9" fill="#e8c23a"/><rect x="72" y="830" width="9" height="9" fill="#e8c23a"/><rect x="99" y="830" width="9" height="9" fill="#e8c23a"/><rect x="125" y="830" width="9" height="9" fill="#e8c23a"/></g>
<path class="D" d="M14 858h86v10h-84v3l-2-3z"/><rect x="111" y="872" width="28" height="29" fill="none" stroke="#8cc" stroke-width=".6"/><use href="#w" x="113" y="874" width="24" height="25"/>
<rect class="O" x="14" y="906" width="8" height="8"/><rect class="O" x="25" y="906" width="95" height="13"/><line class="lo" x1="120" y1="913" x2="137" y2="913"/>
<ellipse class="a" cx="85" cy="930" rx="11" ry="12"/><ellipse class="c" fill="#d0dad8" cx="69" cy="936" rx="18" ry="12"/><ellipse cx="72" cy="931" rx="12" ry="5" fill="#6a4a44"/>
<rect class="O" x="14" y="955" width="8" height="8"/><rect class="O" x="25" y="955" width="95" height="13"/><line class="lo" x1="120" y1="963" x2="137" y2="963"/>
<ellipse class="a" cx="60" cy="982" rx="12" ry="10"/><ellipse class="c" fill="#dcdce0" cx="70" cy="988" rx="20" ry="14"/><ellipse cx="70" cy="981" rx="15" ry="6" fill="#6a5a58"/>
<text class="n" x="15.500" y="731" textLength="7" lengthAdjust="spacingAndGlyphs">05</text>
<text class="o" x="46" y="729.500" textLength="18">活动指导</text>
<text class="b" x="25" y="740" textLength="112">(1)练习腹式深呼吸和有效咳嗽、咳痰。深呼吸功能</text>
<text class="b" x="14" y="747" textLength="123">训练和下床活动对于肺膨胀非常重要,每床活动每日至少2</text>
<text class="b" x="14" y="754" textLength="17">次以上。</text>
<text x="83" y="801" font-size="3.800" fill="#444" textLength="55">提前通过对气球吹气,使肺复张</text>
<text x="83" y="806.500" font-size="3.800" fill="#444" textLength="45">每天下地5次,每次5~10分钟。</text>
<text class="b" x="25" y="813.500" textLength="112">(2)术后应尽早进行循序渐进的患侧肩关节功能锻炼,</text>
<text class="b" x="14" y="820.500" textLength="32">促进功能恢复。</text>
<text class="h" x="19" y="865" textLength="76">四、胸腔引流管意外拔管的危害</text>
<text class="b" x="24" y="878" textLength="83">胸腔引流管意外脱出会导致气胸、粘连</text>
<text class="b" x="14" y="885" textLength="93">性胸膜炎、肺不张等疾病。增加重复置管的</text>
<text class="b" x="14" y="892" textLength="93">概率,延长住院时间,增加住院费用。严重</text>
<text class="b" x="14" y="899" textLength="36">者危及患者生命。</text>
<text class="n" x="14.500" y="913" textLength="7" lengthAdjust="spacingAndGlyphs">01</text>
<text class="o" x="27" y="911.500" textLength="90">若引流管从置管处脱出,立即用手捏闭胸腔伤口</text>
<text class="o" x="27" y="917.500" textLength="46">处皮肤,并报告医护人员。</text>
<text class="n" x="14.500" y="962" textLength="7" lengthAdjust="spacingAndGlyphs">02</text>
<text class="o" x="27" y="960.500" textLength="90">若引流管连接处脱落或引流瓶损坏时,立即双向</text>
<text class="o" x="27" y="966.500" textLength="46">夹闭引流管,并报告医护人员。</text>
<!-- P2 -->
<rect class="W" x="198" y="729" width="89" height="12" rx="6"/><line class="lw" x1="195" y1="748" x2="280" y2="748"/><circle cx="283" cy="748" r="3" fill="none" stroke="#dff" stroke-width="1.2"/>
<path class="W" d="M164 754h71v9h-69v3l-2-3z"/><rect x="240" y="754" width="48" height="32" rx="2" fill="#d8e0e4"/><path d="M245 770q25 12 38-4" stroke="#d8c888" stroke-width="1.2" fill="none"/><path d="M245 760l20 8" stroke="#3a7ab8" stroke-width="1.5"/>
<path class="W" d="M164 790h80v8.500h-78v3l-2-3z"/><path class="W" d="M164 824h90v9h-88v3l-2-3z"/>
<rect class="W" x="164" y="838" width="7.500" height="7"/><rect class="W" x="175" y="837" width="95" height="12"/><line class="lw" x1="270" y1="845" x2="287" y2="845"/>
<rect class="g1" x="175" y="853" width="21" height="25"/><rect class="g1" x="201" y="853" width="22" height="25"/><rect class="g1" x="228" y="853" width="22" height="25"/><rect class="g1" x="256" y="853" width="23" height="25"/><rect x="183" y="858" width="7" height="9" fill="#3a70b0"/><rect x="208" y="862" width="10" height="4" fill="#3a70b0"/><rect x="265" y="865" width="6" height="8" fill="#3a70b0"/>
<rect class="W" x="164" y="882" width="7.500" height="7"/><rect class="W" x="175" y="882" width="108" height="7.500"/><line class="lw" x1="283" y1="885" x2="288" y2="885"/>
<rect class="W" x="164" y="892" width="7.500" height="7"/><rect class="W" x="175" y="892" width="108" height="8"/><line class="lw" x1="283" y1="896" x2="288" y2="896"/>
<rect class="W" x="198" y="905" width="24" height="25"/><circle cx="210" cy="914" r="5" fill="#e8c8b0"/><rect class="W" x="229" y="905" width="25" height="25"/><circle cx="241" cy="917" r="8" fill="#4a2a20"/><circle cx="241" cy="919" r="5" fill="#f0d0c0"/>
<rect class="W" x="164" y="933" width="7.500" height="7"/><rect class="W" x="175" y="933" width="108" height="8"/><line class="lw" x1="283" y1="937" x2="288" y2="937"/>
<path class="W" d="M164 944h88v9h-86v3l-2-3z"/><use href="#w" x="261" y="952" width="27" height="27"/>
<path class="W" d="M164 984h62v9h-60v3l-2-3z"/>
<text class="N NW" x="164" y="742" textLength="30" lengthAdjust="spacingAndGlyphs">04</text>
<text x="204" y="738" font-size="6.500" fill="#0f7f74" textLength="78">中心静脉导管健康知识图谱</text>
<text class="C" x="164" y="751" fill="#dff" textLength="28" lengthAdjust="spacingAndGlyphs">CONTENT</text>
<text class="k" x="168" y="760.500" textLength="63">一、什么是中心静脉导管?</text>
<text class="l" x="173" y="771.500" textLength="61">中心静脉置管是经皮肤直接</text>
<text class="l" x="164" y="778.500" textLength="70">从大静脉进行穿刺,并留置在血管</text>
<text class="l" x="164" y="785" textLength="20">内的导管。</text>
<text class="k" x="168" y="796.500" textLength="73">二、留置中心静脉导管的目的</text>
<text class="l" x="173" y="805" textLength="116">应用于需要大量而快速的静脉输液,以及输入对外周静</text>
<text class="l" x="164" y="812" textLength="125">脉较强刺激性的药物,如去甲肾上腺素、胺碘酮、脂肪乳等</text>
<text class="l" x="164" y="819" textLength="100">药物,需要监测中心静脉压,指导临床用药。</text>
<text class="k" x="168" y="830.500" textLength="82">三、留置中心静脉导管的注意事项</text>
<text class="nt" x="164.500" y="844" textLength="6.500" lengthAdjust="spacingAndGlyphs">01</text>
<text class="w" x="176" y="842" textLength="90">保持管路的通畅:勿牵拉、勿反折、无其扭曲等,如起</text>
<text class="w" x="176" y="847.500" textLength="92">身站起改变体位时,要注意保护管道避免管道脱出。</text>
<text class="nt" x="164.500" y="888.500" textLength="6.500" lengthAdjust="spacingAndGlyphs">02</text>
<text class="w" x="176" y="887.500" textLength="105">穿刺处不要自行清理敷料覆膜,保持穿刺处皮肤清洁干燥。</text>
<text class="nt" x="164.500" y="898.500" textLength="6.500" lengthAdjust="spacingAndGlyphs">03</text>
<text class="w" x="176" y="897.500" textLength="105">穿刺部位不要做剧烈动作,保持侧颈直立,避免频繁摇头。</text>
<text class="nt" x="164.500" y="939.500" textLength="6.500" lengthAdjust="spacingAndGlyphs">04</text>
<text class="w" x="176" y="938.500" textLength="105">穿刺点红肿、疼痛、发痒等不适时,应及时告知医护人员。</text>
<text class="k" x="168" y="950.500" textLength="81">四、中心静脉导管意外拔管的危害</text>
<text class="l" x="173" y="959.500" textLength="76">中心静脉导管脱出会导致出血、皮下</text>
<text class="l" x="164" y="966.500" textLength="85">肿、空气栓塞危及生命、若导管残端进入血</text>
<text class="l" x="164" y="974" textLength="85">管内,需进行手术治疗,增加住院费用,延</text>
<text class="l" x="164" y="981" textLength="28">长住院时间。</text>
<text class="k" x="168" y="990.500" textLength="54">五、意外拔管怎么办?</text>
<text class="l" x="173" y="1001" textLength="116">中心静脉导管脱出时,立即用手按压穿刺点并报告医护</text>
<!-- P3 -->
<path class="D" d="M346 735a6 6 0 0 1 6-6h78a6 6 0 0 1 6 6a6 6 0 0 1-6 6h-78a6 6 0 0 1-6-6z"/>
<line x1="342" y1="747.500" x2="428" y2="747.500" stroke="#999"/><circle cx="432" cy="747" r="2.800" fill="#fff" stroke="#111" stroke-width="1.200"/>
<path class="D" d="M312 755h71v9h-69v3l-2-3z"/><rect x="388" y="754" width="49" height="31" fill="#f2f4f0" stroke="#b9e3dd" stroke-width=".5"/><path d="M395 762q20 2 34 14q-10 6-28-4" stroke="#d8c270" stroke-width="1.800" fill="none"/><rect x="426" y="772" width="9" height="6" fill="#d85a40"/>
<path class="D" d="M312 788h85v9h-83v3l-2-3z"/><path class="D" d="M312 829h79v9h-77v3l-2-3z"/>
<rect class="O" x="312" y="846" width="8" height="8"/><rect class="O" x="322" y="845" width="95" height="13"/><line class="lo" x1="417" y1="853" x2="435" y2="853"/>
<rect class="g1" x="333" y="864" width="38" height="31" stroke="#9cd" stroke-width=".6"/><rect class="g1" x="376" y="864" width="37" height="31" stroke="#9cd" stroke-width=".6"/><path d="M345 870l10 20M388 870l12 12" stroke="#d8c248" stroke-width="1.500"/>
<rect class="O" x="312" y="902" width="8" height="8"/><rect class="O" x="322" y="902" width="95" height="13"/><line class="lo" x1="417" y1="910" x2="435" y2="910"/>
<rect class="g1" x="315" y="921" width="38" height="32" stroke="#9cd" stroke-width=".6"/><rect class="g1" x="357" y="921" width="23" height="32" stroke="#9cd" stroke-width=".6"/><rect class="g2" x="383" y="921" width="23" height="32" stroke="#9cd" stroke-width=".6"/><rect class="g2" x="411" y="921" width="22" height="32" stroke="#9cd" stroke-width=".6"/>
<rect class="O" x="312" y="959" width="8" height="7"/><rect class="O" x="322" y="959" width="104" height="8"/><line class="lo" x1="426" y1="963" x2="435" y2="963"/>
<rect x="338" y="970" width="33" height="37" fill="#c4bcc8" stroke="#9cd" stroke-width=".6"/><rect x="376" y="970" width="34" height="37" fill="#c4bcc8" stroke="#9cd" stroke-width=".6"/><ellipse cx="354" cy="992" rx="13" ry="11" fill="#a49ad4"/><ellipse cx="393" cy="992" rx="13" ry="11" fill="#a49ad4"/>
<text class="N NO" x="312" y="742" textLength="31" lengthAdjust="spacingAndGlyphs">05</text>
<text class="P" x="353" y="738" fill="#d7f1ec" textLength="76">导尿管健康知识图谱</text>
<text class="C" x="312" y="750" font-weight="700" fill="#111" textLength="28" lengthAdjust="spacingAndGlyphs">CONTENT</text>
<text class="h" x="318" y="761.500" textLength="48">一、什么是导尿管?</text>
<text class="b" x="322" y="775" textLength="56">导尿管是一种经尿道插入膀</text>
<text class="b" x="312" y="782" textLength="51">胱以引流尿液的管道。</text>
<text class="h" x="318" y="795" textLength="74">二、留置导尿管的目的是什么?</text>
<text class="b" x="322" y="808" textLength="114">准确测量每小时尿量,按导线床治疗;保持手术时膀胱</text>
<text class="b" x="312" y="815" textLength="124">空虚状态,避免术中误伤,为尿液道、尿失禁患者引流尿</text>
<text class="b" x="312" y="822" textLength="100">液,保持会阴部皮肤清洁干燥;持续膀胱冲洗。</text>
<text class="h" x="318" y="836" textLength="66">三、留置引流管应注意哪些?</text>
<text class="n" x="312.500" y="853" textLength="7" lengthAdjust="spacingAndGlyphs">01</text>
<text class="o" x="324" y="850.500" textLength="90">保持引流管通畅,避免管路扭曲、反折、受压,尤其活动</text>
<text class="o" x="324" y="856.500" textLength="90">后,如起身改变体位时,要注意保护管道避免管路脱出。</text>
<text class="n" x="312.500" y="909" textLength="7" lengthAdjust="spacingAndGlyphs">02</text>
<text class="o" x="324" y="907.500" textLength="90">患者下床活动时,需用导尿管防止液体逆流。管</text>
<text class="o" x="324" y="913.500" textLength="90">道接导尿接清,尤其是引流袋与导尿管的连接处。</text>
<text class="n" x="312.500" y="965.500" textLength="7" lengthAdjust="spacingAndGlyphs">03</text>
<text class="o" x="324" y="964.500" textLength="100">引流袋位置应低于膀胱水平,勿倒挂,避免接触地面。</text>
<!-- P4 -->
<rect class="W" x="461" y="725" width="8" height="7"/><rect class="W" x="473" y="724" width="104" height="12.500"/><line class="lw" x1="577" y1="733" x2="585" y2="733"/>
<rect class="W" x="461" y="746" width="8" height="7"/><rect class="W" x="473" y="745" width="104" height="21"/><line class="lw" x1="577" y1="753" x2="585" y2="753"/>
<rect class="W" x="482" y="771" width="33" height="31"/><circle cx="500" cy="784" r="6" fill="#6a4a3a"/><rect x="492" y="790" width="16" height="10" fill="#6868a8"/><rect x="485" y="775" width="6" height="22" fill="#d8b048"/>
<rect x="528" y="771" width="35" height="31" fill="#e0e4e0"/><rect x="535" y="776" width="20" height="20" fill="#c08a78"/>
<rect class="W" x="461" y="809" width="8" height="7"/><rect class="W" x="472" y="808" width="105" height="14"/><line class="lw" x1="577" y1="817" x2="585" y2="817"/>
<rect class="rw" x="478" y="828" width="90" height="55" stroke-dasharray="1 1"/><rect x="482" y="832" width="81" height="47" fill="#dedcd2"/>
<circle cx="497" cy="842" r="10" fill="#e8e8e4" stroke="#444" stroke-width=".6"/><circle cx="496" cy="868" r="10" fill="#e8e8e4" stroke="#444" stroke-width=".6"/><circle cx="547" cy="850" r="13" fill="#e8e8e4" stroke="#444" stroke-width=".6"/><circle cx="522" cy="837" r="4" fill="#1f4a80"/><rect x="517" y="841" width="10" height="24" rx="3" fill="#1f4a80"/>
<path class="W" d="M461 890h67v9h-65v3l-2-3z"/><use href="#w" x="553" y="904" width="27" height="28"/>
<path class="W" d="M461 926h78v9h-76v3l-2-3z"/>
<circle class="rw" cx="505" cy="980" r="15" stroke-dasharray="1 1"/><ellipse fill="#d8a060" stroke="#b9e3dd" stroke-width=".8" stroke-dasharray="1 1" cx="528" cy="984" rx="20" ry="17"/><path d="M515 988l20-14" stroke="#e8c840" stroke-width="3"/><rect x="513" y="985" width="11" height="5" fill="#e8c030"/>
<text class="nt" x="461.500" y="731.500" textLength="7" lengthAdjust="spacingAndGlyphs">04</text>
<text class="w" x="474" y="729" textLength="100">保持会阴部清洁干燥,每天使用温水清洗消毒尿道口周</text>
<text class="w" x="474" y="735" textLength="54">边区域和导管表面,2次/日。</text>
<text class="nt" x="461.500" y="751.500" textLength="7" lengthAdjust="spacingAndGlyphs">05</text>
<text class="w" x="474" y="750" textLength="100">病情允许下患者每日饮水量在2000ml左右,以产生足</text>
<text class="w" x="474" y="756.500" textLength="100">够的尿量冲洗尿路,预防感染、心血管疾病需限定液量</text>
<text class="w" x="474" y="763" textLength="50">护理员的情感饮水。</text>
<text class="nt" x="461.500" y="815" textLength="7" lengthAdjust="spacingAndGlyphs">06</text>
<text class="w" x="474" y="814" textLength="100">患者有无胀急、胀痛、尿液引流不畅或自觉腹胀等不</text>
<text class="w" x="474" y="820" textLength="52">适,应立即通知医护人员。</text>
<text class="k" x="465" y="897" textLength="60">四、导尿管脱出的危害?</text>
<text class="l" x="470" y="910" textLength="77">自行拔出尿管,会引起尿道损伤、急</text>
<text class="l" x="461" y="917" textLength="74">性尿潴留、尿路感染,甚至大出血。</text>
<text class="k" x="465" y="933" textLength="71">五、导尿管意外脱出怎么办?</text>
<text class="l" x="470" y="945" textLength="110">1、引流管从尿道脱出时,立即静卧,并联系医护人员。</text>
<text class="l" x="470" y="952" textLength="115">2、引流管从连接处脱出时,立即夹闭导尿管,并报告医</text>
<text class="l" x="461" y="959.500" textLength="22">护人员。</text>
<!-- P5 -->
<path class="D" d="M642 735a6 6 0 0 1 6-6h78a6 6 0 0 1 6 6a6 6 0 0 1-6 6h-78a6 6 0 0 1-6-6z"/>
<line x1="639" y1="747" x2="725" y2="747" stroke="#999"/><circle cx="728" cy="747" r="2.800" fill="#fff" stroke="#111" stroke-width="1.200"/>
<path class="D" d="M608 755h71v9h-69v3l-2-3z"/><rect x="685" y="755" width="47" height="36" rx="2" fill="#c6dcee"/><path d="M690 782q-5-16 40-20M690 770q15-5 35 5" stroke="#eef4f8" stroke-width="1.200" fill="none"/>
<path class="D" d="M608 798h59v10h-57v3l-2-3z"/><path class="D" d="M608 846h70v9h-68v3l-2-3z"/>
<rect class="O" x="608" y="866" width="8.500" height="8"/><rect class="O" x="619" y="866" width="106" height="14"/><line class="lo" x1="725" y1="874" x2="733" y2="874"/>
<rect x="627" y="889" width="38" height="45" fill="#d8c8b8" stroke="#9cd" stroke-width=".8"/><ellipse cx="644" cy="912" rx="14" ry="12" fill="#383438"/><rect x="671" y="889" width="44" height="45" fill="#d8c8b8" stroke="#9cd" stroke-width=".8"/><ellipse cx="688" cy="912" rx="14" ry="12" fill="#3a383c"/>
<rect class="O" x="608" y="949" width="8.500" height="8"/><rect class="O" x="619" y="949" width="81" height="8"/><line class="lo" x1="700" y1="953" x2="733" y2="953"/>
<rect x="628" y="964" width="42" height="40" fill="#ecece8" stroke="#9cd" stroke-width=".8"/><rect x="646" y="970" width="7" height="26" fill="#e6c260"/><rect x="633" y="972" width="8" height="6" fill="#70b060"/>
<rect x="672" y="964" width="40" height="40" fill="#ded4c8" stroke="#9cd" stroke-width=".8"/><ellipse cx="690" cy="978" rx="14" ry="6" fill="#4a4448"/>
<text class="N NO" x="608" y="742" textLength="32" lengthAdjust="spacingAndGlyphs">06</text>
<text class="P" x="654" y="738" fill="#d7f1ec" textLength="66">胃管健康知识图谱</text>
<text class="C" x="608" y="749.500" font-weight="700" fill="#111" textLength="29" lengthAdjust="spacingAndGlyphs">CONTENT</text>
<text class="h" x="614" y="761.500" textLength="38">一、什么是胃管?</text>
<text class="b" x="617" y="775" textLength="61">胃管是是一种经鼻腔通过食</text>
<text class="b" x="608" y="782" textLength="70">道插入胃内的导管,留置深度45-</text>
<text class="b" x="608" y="790" textLength="15">55cm。</text>
<text class="h" x="614" y="805" textLength="46">二、留置胃管的目的</text>
<text class="b" x="617" y="819" textLength="116">应用于食管、纵隔术后需要持续引流的患者,以减轻手</text>
<text class="b" x="608" y="826" textLength="125">术伤口张力,促进组织修护;病情危重需要鼻饲的患者,以</text>
<text class="b" x="608" y="833" textLength="34">保证营养的摄取。</text>
<text class="h" x="614" y="852.500" textLength="60">三、留置胃管的注意事项</text>
<text class="n" x="608.500" y="873.500" textLength="7.500" lengthAdjust="spacingAndGlyphs">01</text>
<text class="o" x="621" y="871.500" textLength="102">保持管路的通畅:勿牵拉、勿反折、尤其是翻身、活动</text>
<text class="o" x="621" y="878" textLength="90">等改变体位时,要注意保护管道避免管路脱出。</text>
<text class="n" x="608.500" y="956" textLength="7.500" lengthAdjust="spacingAndGlyphs">02</text>
<text class="o" x="621" y="954.500" textLength="76">穿衣衣服时注意防止导管牵拉、脱出。</text>
<!-- P6 -->
<rect class="W" x="757" y="725" width="8" height="7"/><rect class="W" x="768" y="724" width="80" height="8.500"/><line class="lw" x1="848" y1="728" x2="880" y2="728"/>
<rect class="rw" x="779" y="738" width="36" height="31" stroke-dasharray="1 1"/><rect class="W" x="784" y="741" width="26" height="25"/><circle cx="797" cy="750" r="6" fill="#f0d0c8" stroke="#c44" stroke-width=".3"/>
<rect class="rw" x="821" y="738" width="36" height="31" stroke-dasharray="1 1"/><rect class="W" x="826" y="741" width="26" height="25"/><circle cx="839" cy="751" r="6" fill="#f0c8a8"/><rect x="832" y="756" width="14" height="9" fill="#e070a0"/>
<rect class="W" x="757" y="777" width="8" height="7"/><rect class="W" x="768" y="776" width="87" height="8"/><line class="lw" x1="855" y1="780" x2="880" y2="780"/>
<rect class="W" x="779" y="795" width="33" height="39"/><circle cx="795" cy="812" r="12" fill="#3a2a24"/><circle cx="795" cy="815" r="8" fill="#f0d4c4"/><rect x="788" y="824" width="14" height="8" fill="#6a4a3a"/>
<rect x="820" y="795" width="37" height="39" fill="#c8a898" stroke="#b9e3dd" stroke-width=".5"/>
<path class="W" d="M756 842h68v9h-66v3l-2-3z"/><rect class="rw" x="842" y="849" width="38" height="42" stroke-dasharray="1 1"/><use href="#w" x="844" y="852" width="34" height="37"/>
<path class="W" d="M756 904h68v9h-66v3l-2-3z"/>
<rect class="W" x="756" y="923" width="8" height="7.500"/><rect class="W" x="767" y="923" width="105" height="14"/><line class="lw" x1="872" y1="930" x2="880" y2="930"/>
<rect class="W" x="756" y="945" width="8" height="7.500"/><rect class="W" x="767" y="945" width="105" height="13"/><line class="lw" x1="872" y1="953" x2="880" y2="953"/>
<circle class="rw" cx="800" cy="980" r="14" stroke-dasharray="1 1"/><ellipse fill="#f0ccc0" stroke="#b9e3dd" stroke-width=".8" stroke-dasharray="1 1" cx="818" cy="983" rx="22" ry="16"/>
<text class="nt" x="757.500" y="731.500" textLength="7" lengthAdjust="spacingAndGlyphs">03</text>
<text class="w" x="769.500" y="730" textLength="77">鼻饲时取半坐卧位,每日至少漱口两次。</text>
<text class="nt" x="757.500" y="783" textLength="7" lengthAdjust="spacingAndGlyphs">04</text>
<text class="w" x="769.500" y="782" textLength="84">置胃管不能躺高度,打喷嚏时注意保护管道。</text>
<text class="k" x="760" y="849" textLength="60">四、胃管意外拔管的危害</text>
<text class="l" x="765" y="862" textLength="74">胃管意外脱出会引起胃液反流、影</text>
<text class="l" x="756" y="869" textLength="83">响手术切口愈合,胃浆道或吻合口瘘,</text>
<text class="l" x="756" y="877" textLength="83">引流液流入气道引起吸入性肺炎,严重</text>
<text class="l" x="756" y="884" textLength="83">者甚至引起呼吸窒息或者呼吸道感染合</text>
<text class="l" x="756" y="891" textLength="6">症。</text>
<text class="k" x="760" y="911" textLength="60">五、意外拔管怎么办?</text>
<text class="nt" x="756.500" y="929.500" textLength="7" lengthAdjust="spacingAndGlyphs">01</text>
<text class="w" x="769" y="928" textLength="101">引流管从鼻腔脱出时,禁止自行回插,应立即报告医</text>
<text class="w" x="769" y="934" textLength="18">护人员。</text>
<text class="nt" x="756.500" y="951.500" textLength="7" lengthAdjust="spacingAndGlyphs">02</text>
<text class="w" x="769" y="950" textLength="101">引流管从连接处脱出时,立即夹闭胃管,并报告医护</text>
<text class="w" x="769" y="956" textLength="12">人员。</text>

<!-- watermarks -->
<text x="15" y="1015" font-size="25" font-weight="700" font-style="italic" fill="#fff" stroke="#777" stroke-width=".6" textLength="80">昵享网</text>
<text x="100" y="1012" font-size="15" font-weight="700" fill="#f6f6f6" fill-opacity=".85" stroke="#666" stroke-width=".7" textLength="112" lengthAdjust="spacingAndGlyphs">www.nipic.cn</text>
<rect x="656" y="994" width="227" height="20" fill="#000" fill-opacity=".42"/>
<text x="666" y="1009" font-size="11.500" fill="#f2f2f2" textLength="207" lengthAdjust="spacingAndGlyphs">ID:31434196 NO:20230324180111694106</text>
</svg>
</body></html>
